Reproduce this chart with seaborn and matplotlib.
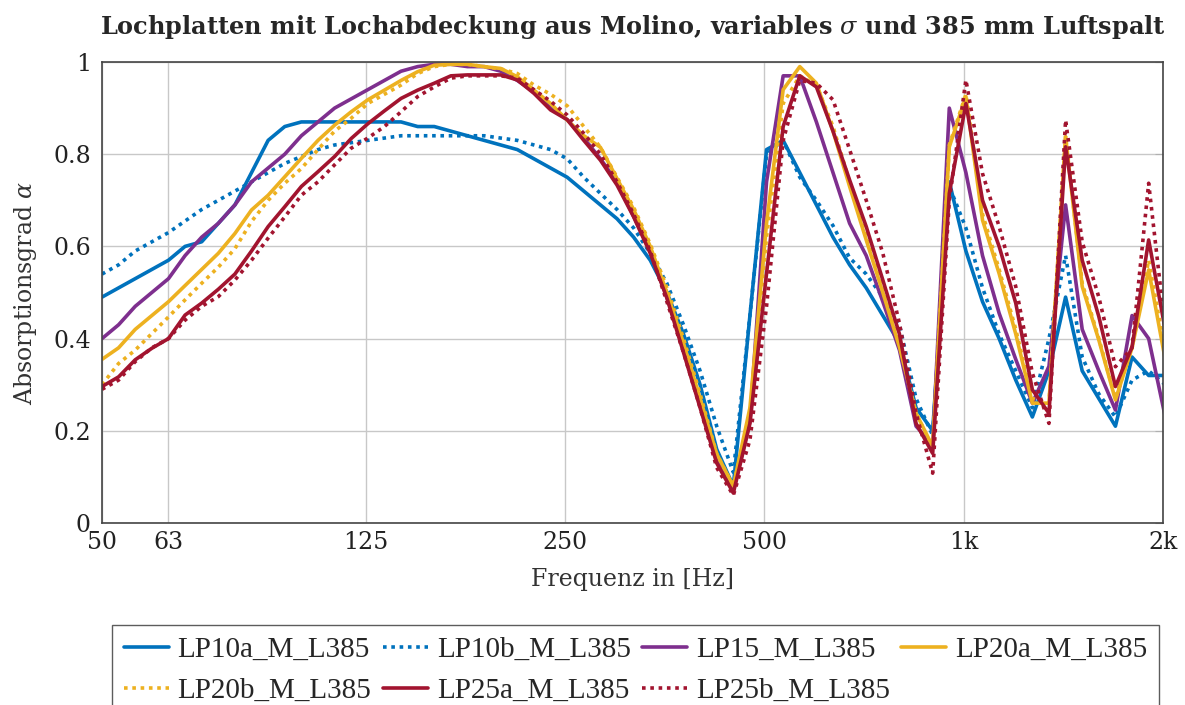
import numpy as np
import pandas as pd
import matplotlib
matplotlib.use('Agg')
import matplotlib.pyplot as plt
import seaborn as sns

# 1/12-octave band centres
freqs = [50.0, 52.97, 56.12, 59.46, 63.0, 66.74, 70.71, 74.92, 79.37, 84.09,
         89.09, 94.39, 100.0, 105.95, 112.25, 118.92, 125.99, 133.48, 141.42, 149.83,
         158.74, 168.18, 178.18, 188.77, 200.0, 211.89, 224.49, 237.84, 251.98, 266.97,
         282.84, 299.66, 317.48, 336.36, 356.36, 377.55, 400.0, 423.78, 448.98, 475.68,
         503.97, 533.93, 565.69, 599.32, 634.96, 672.71, 712.71, 755.1, 800.0, 847.57,
         897.96, 951.36, 1007.94, 1067.87, 1131.37, 1198.65, 1269.92, 1345.43, 1425.42, 1510.19,
         1600.0, 1695.14, 1795.94, 1902.73, 2015.87]

lp10a = [0.49, 0.51, 0.53, 0.55, 0.57, 0.60, 0.61, 0.65, 0.69, 0.76,
         0.83, 0.86, 0.87, 0.87, 0.87, 0.87, 0.87, 0.87, 0.87, 0.86,
         0.86, 0.85, 0.84, 0.83, 0.82, 0.81, 0.79, 0.77, 0.75, 0.72,
         0.69, 0.66, 0.62, 0.57, 0.50, 0.41, 0.30, 0.16, 0.08, 0.45,
         0.81, 0.83, 0.76, 0.69, 0.62, 0.56, 0.51, 0.45, 0.39, 0.25,
         0.20, 0.74, 0.59, 0.48, 0.40, 0.31, 0.23, 0.33, 0.49, 0.33,
         0.27, 0.21, 0.36, 0.32, 0.32]
lp10b = [0.54, 0.56, 0.59, 0.61, 0.63, 0.655, 0.68, 0.70, 0.72, 0.74,
         0.76, 0.78, 0.795, 0.81, 0.82, 0.825, 0.83, 0.835, 0.84, 0.84,
         0.84, 0.84, 0.84, 0.84, 0.835, 0.83, 0.82, 0.81, 0.79, 0.75,
         0.715, 0.68, 0.64, 0.585, 0.52, 0.43, 0.33, 0.21, 0.11, 0.45,
         0.80, 0.83, 0.75, 0.70, 0.645, 0.575, 0.54, 0.49, 0.43, 0.27,
         0.19, 0.73, 0.64, 0.51, 0.41, 0.33, 0.25, 0.40, 0.58, 0.36,
         0.28, 0.23, 0.31, 0.33, 0.30]
lp15 = [0.40, 0.43, 0.47, 0.50, 0.53, 0.58, 0.62, 0.65, 0.69, 0.74,
        0.77, 0.80, 0.84, 0.87, 0.90, 0.92, 0.94, 0.96, 0.98, 0.99,
        0.995, 0.995, 0.99, 0.99, 0.98, 0.96, 0.935, 0.90, 0.875, 0.835,
        0.79, 0.74, 0.665, 0.59, 0.49, 0.38, 0.26, 0.14, 0.07, 0.22,
        0.74, 0.97, 0.97, 0.87, 0.76, 0.65, 0.58, 0.48, 0.375, 0.21,
        0.17, 0.90, 0.76, 0.58, 0.455, 0.355, 0.26, 0.34, 0.69, 0.42,
        0.33, 0.245, 0.45, 0.40, 0.23]
lp20a = [0.355, 0.38, 0.42, 0.45, 0.48, 0.515, 0.55, 0.585, 0.628, 0.679,
         0.711, 0.751, 0.791, 0.83, 0.863, 0.892, 0.918, 0.939, 0.96, 0.979,
         0.993, 0.995, 0.995, 0.99, 0.986, 0.968, 0.939, 0.91, 0.874, 0.84,
         0.815, 0.747, 0.68, 0.60, 0.50, 0.39, 0.27, 0.15, 0.08, 0.25,
         0.65, 0.94, 0.99, 0.954, 0.85, 0.73, 0.614, 0.50, 0.382, 0.238,
         0.166, 0.816, 0.925, 0.657, 0.541, 0.41, 0.26, 0.26, 0.838, 0.513,
         0.397, 0.267, 0.38, 0.549, 0.354]
lp20b = [0.30, 0.346, 0.375, 0.411, 0.447, 0.484, 0.52, 0.555, 0.595, 0.654,
         0.70, 0.737, 0.769, 0.81, 0.85, 0.878, 0.91, 0.93, 0.95, 0.975,
         0.99, 0.995, 0.995, 0.99, 0.985, 0.975, 0.95, 0.93, 0.905, 0.86,
         0.815, 0.75, 0.685, 0.605, 0.51, 0.40, 0.28, 0.15, 0.08, 0.24,
         0.62, 0.91, 0.97, 0.95, 0.86, 0.74, 0.62, 0.51, 0.39, 0.24,
         0.16, 0.82, 0.93, 0.67, 0.55, 0.42, 0.27, 0.26, 0.84, 0.52,
         0.40, 0.27, 0.38, 0.57, 0.37]
lp25a = [0.296, 0.317, 0.354, 0.379, 0.40, 0.451, 0.477, 0.507, 0.54, 0.59,
         0.643, 0.686, 0.73, 0.762, 0.795, 0.834, 0.866, 0.894, 0.921, 0.939,
         0.954, 0.97, 0.972, 0.972, 0.972, 0.961, 0.932, 0.896, 0.875, 0.83,
         0.787, 0.733, 0.664, 0.585, 0.488, 0.37, 0.25, 0.13, 0.065, 0.216,
         0.541, 0.86, 0.97, 0.946, 0.85, 0.744, 0.643, 0.527, 0.41, 0.216,
         0.151, 0.715, 0.91, 0.70, 0.60, 0.477, 0.289, 0.238, 0.816, 0.57,
         0.448, 0.296, 0.382, 0.614, 0.419]
lp25b = [0.29, 0.31, 0.35, 0.38, 0.40, 0.44, 0.47, 0.491, 0.527, 0.57,
         0.618, 0.664, 0.711, 0.74, 0.777, 0.813, 0.835, 0.86, 0.892, 0.925,
         0.946, 0.965, 0.97, 0.97, 0.97, 0.965, 0.94, 0.915, 0.885, 0.845,
         0.80, 0.74, 0.67, 0.59, 0.48, 0.37, 0.25, 0.12, 0.06, 0.18,
         0.47, 0.83, 0.96, 0.954, 0.918, 0.81, 0.70, 0.585, 0.433, 0.238,
         0.108, 0.70, 0.961, 0.758, 0.643, 0.513, 0.325, 0.216, 0.874, 0.61,
         0.49, 0.339, 0.38, 0.737, 0.42]

names = ['LP10a_M_L385', 'LP10b_M_L385', 'LP15_M_L385', 'LP20a_M_L385',
         'LP20b_M_L385', 'LP25a_M_L385', 'LP25b_M_L385']
series = [lp10a, lp10b, lp15, lp20a, lp20b, lp25a, lp25b]
colors = ['#0072BD', '#0072BD', '#7E2F8E', '#EDB120', '#EDB120', '#A2142F', '#A2142F']
dotted = (0, (1, 1.3))
styles = ['-', dotted, '-', '-', dotted, '-', dotted]

tick_pos = [50, 63, 125, 250, 500, 1000, 2000]
tick_lab = ['50', '63', '125', '250', '500', '1k', '2k']

sns.set_style('whitegrid')
plt.rcParams['font.family'] = ['DejaVu Serif']
plt.rcParams['mathtext.fontset'] = 'dejavuserif'

fig = plt.figure(figsize=(11.85, 7.05), dpi=100)
ax = fig.add_axes([102 / 1185, 1 - 523 / 705, 1061 / 1185, 461 / 705])

for name, vals, c, ls in zip(names, series, colors, styles):
    df = pd.DataFrame({'f': freqs, 'alpha': vals})
    sns.lineplot(data=df, x='f', y='alpha', color=c, linestyle=ls, linewidth=2.6,
                 label=name, ax=ax, sort=False)

ax.set_xscale('log')
ax.set_xlim(50, 2000)
ax.set_ylim(0, 1)
ax.set_xticks(tick_pos)
ax.set_xticklabels(tick_lab)
ax.xaxis.set_minor_locator(matplotlib.ticker.NullLocator())
ax.set_yticks([0, 0.2, 0.4, 0.6, 0.8, 1])
ax.set_yticklabels(['0', '0.2', '0.4', '0.6', '0.8', '1'])
ax.tick_params(axis='both', labelsize=17, direction='in', length=6, color='#b0b0b0',
               colors='#222222', right=True, top=False)
ax.tick_params(axis='y', labelcolor='#222222', pad=8)
ax.tick_params(axis='x', pad=6)
ax.grid(True, color='#c8c8c8', linewidth=1.0)
for s in ax.spines.values():
    s.set_color('#444444')
    s.set_linewidth(1.2)

ax.set_xlabel('Frequenz in [Hz]', fontsize=17, color='#333333', labelpad=10)
ax.set_ylabel(r'Absorptionsgrad $\alpha$', fontsize=17, color='#333333', labelpad=10)
ax.set_title(r'Lochplatten mit Lochabdeckung aus Molino, variables $\sigma$ und 385 mm Luftspalt',
             fontsize=17.3, fontweight='bold', pad=20)

# legend filled row by row like the original
handles, labels = ax.get_legend_handles_labels()
ax.get_legend().remove()
order = [0, 4, 1, 5, 2, 6, 3]
fig.legend([handles[i] for i in order], [labels[i] for i in order],
           loc='upper left', ncol=4, mode='expand', borderaxespad=0,
           bbox_to_anchor=(112 / 1185, 1 - 625 / 705, 1047 / 1185, 0),
           prop={'family': 'Liberation Serif', 'size': 21}, frameon=True,
           fancybox=False, edgecolor='#333333', handlelength=1.55,
           handletextpad=0.3, columnspacing=0.3, borderpad=0.4, labelspacing=0.5)

fig.savefig('out.png', dpi=100)
